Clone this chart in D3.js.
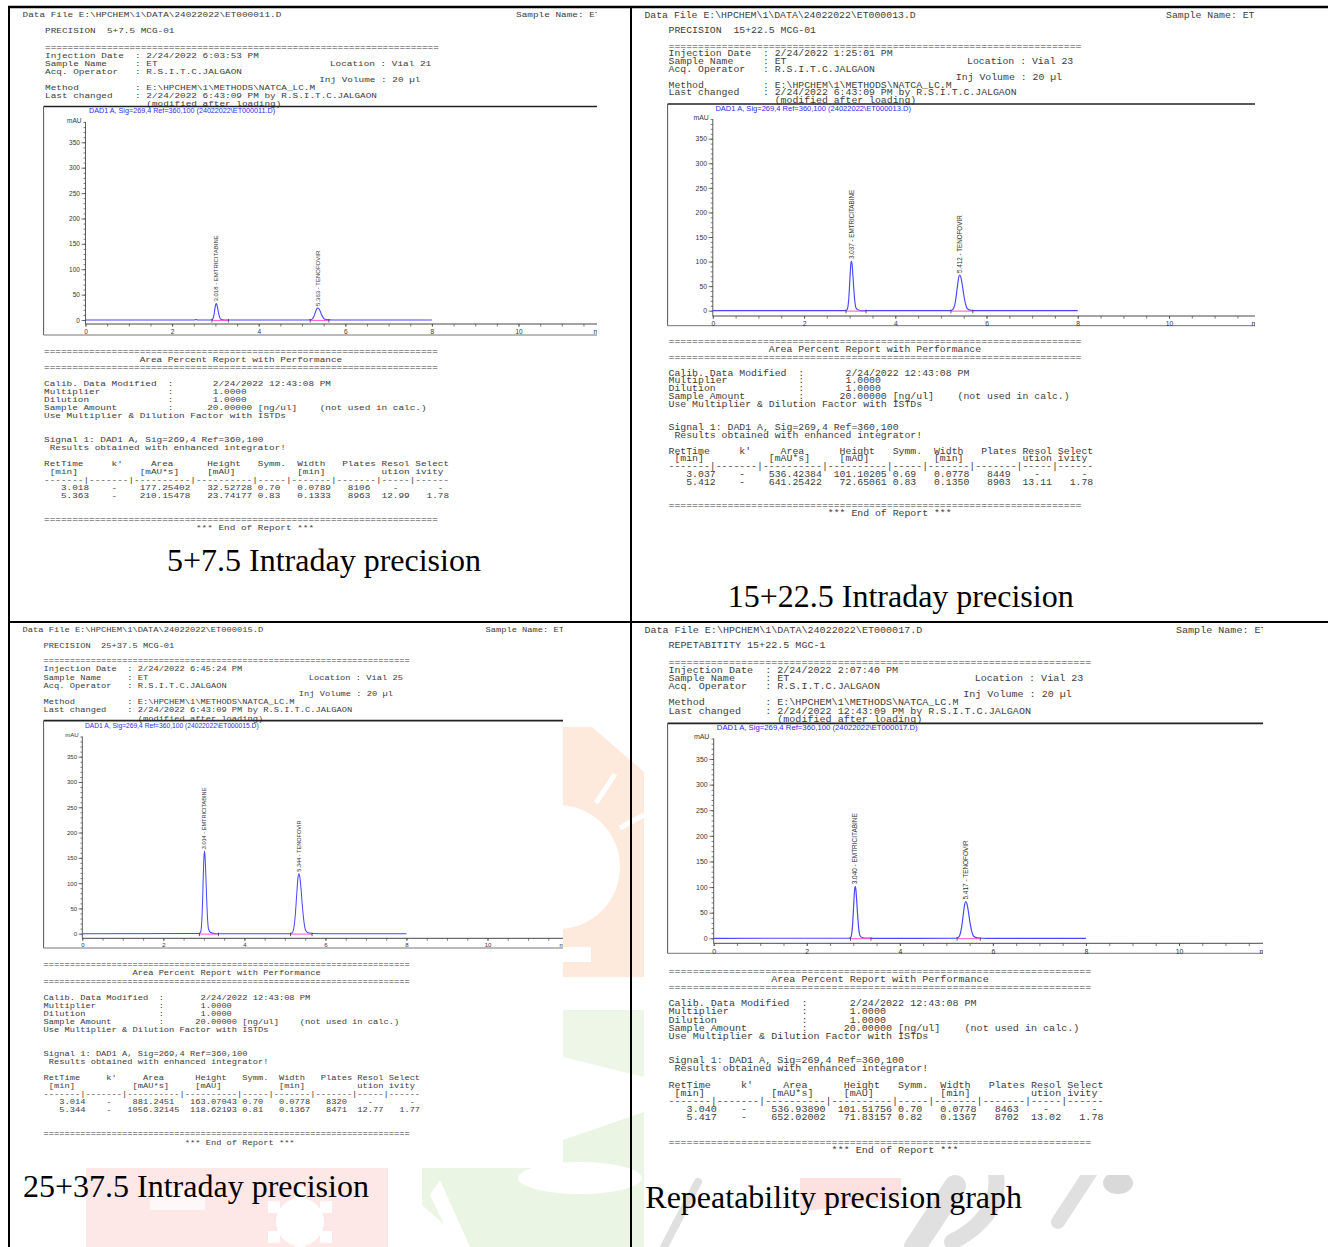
<!DOCTYPE html>
<html><head><meta charset="utf-8">
<script src="https://cdn.jsdelivr.net/npm/d3@7/dist/d3.min.js"></script>
<style>
html,body{margin:0;padding:0;background:#fff;}
svg{display:block;}
.mono{font-family:"Liberation Mono","DejaVu Sans Mono",monospace;fill:#3c3c3c;white-space:pre;}
.sans{font-family:"Liberation Sans",Arial,sans-serif;}
.cap{font-family:"Liberation Serif","Times New Roman",serif;fill:#000;}
</style></head>
<body>
<svg id="chart" width="1328" height="1247" xmlns="http://www.w3.org/2000/svg"></svg>
<script>
// ---------------- DATA ----------------
const dataFiles = ["E:\\HPCHEM\\1\\DATA\\24022022\\ET000011.D","E:\\HPCHEM\\1\\DATA\\24022022\\ET000013.D","E:\\HPCHEM\\1\\DATA\\24022022\\ET000015.D","E:\\HPCHEM\\1\\DATA\\24022022\\ET000017.D"];
const sampleNames = ["ET","ET","ET","ET"];
const runTitles = ["PRECISION  5+7.5 MCG-01","PRECISION  15+22.5 MCG-01","PRECISION  25+37.5 MCG-01","REPETABITITY 15+22.5 MGC-1"];
const injectionDates = ["2/24/2022 6:03:53 PM","2/24/2022 1:25:01 PM","2/24/2022 6:45:24 PM","2/24/2022 2:07:40 PM"];
const vialLocations = ["Vial 21","Vial 23","Vial 25","Vial 23"];
const lastChanged = ["2/24/2022 6:43:09 PM","2/24/2022 6:43:09 PM","2/24/2022 6:43:09 PM","2/24/2022 12:43:09 PM"];
const signalTitles = ["DAD1 A, Sig=269,4 Ref=360,100 (24022022\\ET000011.D)","DAD1 A, Sig=269,4 Ref=360,100 (24022022\\ET000013.D)","DAD1 A, Sig=269,4 Ref=360,100 (24022022\\ET000015.D)","DAD1 A, Sig=269,4 Ref=360,100 (24022022\\ET000017.D)"];
const captions = ["5+7.5 Intraday precision","15+22.5 Intraday precision","25+37.5 Intraday precision","Repeatability precision graph"];
const compounds = ["EMTRICITABINE","TENOFOVIR"];
const retTimes = [["3.018","5.363"],["3.037","5.412"],["3.014","5.344"],["3.040","5.417"]];
const peakAreas = [["177.25402","210.15478"],["536.42384","641.25422"],["881.2451","1056.32145"],["536.93890","652.02002"]];
const peakHeights = [["32.52728","23.74177"],["101.10205","72.65061"],["163.07043","118.62193"],["101.51756","71.83157"]];
const peakSymm = [["0.70","0.83"],["0.69","0.83"],["0.70","0.81"],["0.70","0.82"]];
const peakWidths = [["0.0789","0.1333"],["0.0778","0.1350"],["0.0778","0.1367"],["0.0778","0.1367"]];
const peakPlates = [["8106","8963"],["8449","8903"],["8320","8471"],["8463","8702"]];
const resolution = ["12.99","13.11","12.77","13.02"];
const selectivity = ["1.78","1.78","1.77","1.78"];
const yTickLabels = [0,50,100,150,200,250,300,350];
const xTickLabels = [0,2,4,6,8,10];

const trace1 = [[0,0],[2.50,0],[2.55,0.8],[2.60,0],[2.89,0.1],[2.918,0.4],[2.943,2.6],[2.968,10.7],[2.988,21.8],[3.003,29.3],[3.018,32.5],[3.033,30.6],[3.048,25.0],[3.068,15.9],[3.093,6.5],[3.118,2.0],[3.168,0.5],[3.268,0.1],[3.40,0],[5.15,0.05],[5.193,0.3],[5.233,1.8],[5.273,6.9],[5.313,16.1],[5.338,21.6],[5.363,23.7],[5.388,22.3],[5.413,18.5],[5.453,10.4],[5.493,4.3],[5.533,1.3],[5.613,0.2],[5.713,0.05],[5.85,0],[8,0]];
const trace2 = [[0,0],[2.90,0.1],[2.937,1.2],[2.962,8.1],[2.987,33.4],[3.007,67.7],[3.022,91.0],[3.037,101.1],[3.052,95.0],[3.067,77.8],[3.087,49.5],[3.112,20.2],[3.137,6.1],[3.187,1.5],[3.287,0.3],[3.45,0],[5.20,0.05],[5.242,0.9],[5.282,5.4],[5.322,21.1],[5.362,49.4],[5.387,66.2],[5.412,72.7],[5.437,68.3],[5.462,56.7],[5.502,32.0],[5.542,13.1],[5.582,4.0],[5.662,0.7],[5.762,0.15],[5.90,0],[8,0]];
const trace3 = [[0,0],[2.88,0.2],[2.914,2.0],[2.939,13.0],[2.964,53.8],[2.984,109.3],[2.999,146.8],[3.014,163.1],[3.029,153.3],[3.044,125.6],[3.064,79.9],[3.089,32.6],[3.114,9.8],[3.164,2.4],[3.264,0.5],[3.40,0],[5.13,0.1],[5.174,1.4],[5.214,8.8],[5.254,34.4],[5.294,80.6],[5.319,107.9],[5.344,118.6],[5.369,111.5],[5.394,92.5],[5.434,52.2],[5.474,21.3],[5.514,6.5],[5.594,1.2],[5.694,0.24],[5.85,0],[8,0]];
const trace4 = [[0,0],[2.90,0.1],[2.940,1.2],[2.965,8.1],[2.990,33.5],[3.010,68.0],[3.025,91.4],[3.040,101.5],[3.055,95.4],[3.070,78.2],[3.090,49.7],[3.115,20.3],[3.140,6.1],[3.190,1.5],[3.290,0.3],[3.45,0],[5.21,0.05],[5.247,0.9],[5.287,5.3],[5.327,20.8],[5.367,48.8],[5.392,65.3],[5.417,71.8],[5.442,67.5],[5.467,56.0],[5.507,31.6],[5.547,12.9],[5.587,3.9],[5.667,0.7],[5.767,0.14],[5.90,0],[8,0]];
const traces = [trace1,trace2,trace3,trace4];
const integrationBaselines = [[[2.92,3.30],[5.19,5.62]],[[2.92,3.36],[5.22,5.70]],[[2.89,3.36],[5.14,5.67]],[[2.94,3.38],[5.23,5.73]]];

// ---------------- LAYOUT (positions only) ----------------
const layout = [
 {clip:[10,9,587,536], cw:5.63, hx0:45, rx0:44, dataX:22.5, dataY:14, sampleX:516, precY:30, injY:55, hls:8.0, repY:351.7, rls:8.0, capX:167, capY:560,
  box:[43.6,106.5,597,335], xr:[85.5,518.5], yr:[320,142.3], axisY:324, titleX:89, titleY:110.5, mauY:121, k:1},
 {clip:[632,9,623,521], cw:5.9, hx0:668.5, rx0:668.5, dataX:644.4, dataY:15, sampleX:1166, precY:30.3, injY:53.7, hls:7.8, repY:341.7, rls:7.8, capX:727.7, capY:596.7,
  box:[667.6,104,1255,325.7], xr:[712.8,1169], yr:[310.7,138.7], axisY:316, titleX:715.4, titleY:108, mauY:117.7, k:1.048},
 {clip:[10,623,553,540], cw:5.24, hx0:43.6, rx0:43.6, dataX:22.6, dataY:629.3, sampleX:485.5, precY:645.3, injY:669, hls:8.2, repY:965, rls:8.05, capX:23, capY:1186.7,
  box:[43.6,720.7,563,948], xr:[82.3,487.5], yr:[933.7,756.7], axisY:938.3, titleX:85, titleY:725.3, mauY:735, k:0.93},
 {clip:[644,623,619,552], cw:6.05, hx0:668.5, rx0:668.5, dataX:644.4, dataY:630, sampleX:1176, precY:645.7, injY:670.3, hls:8.1, repY:971, rls:8.14, capX:645.3, capY:1197.3,
  box:[667.6,723.3,1263,953.3], xr:[713.7,1179], yr:[938.3,759], axisY:943.3, titleX:716.8, titleY:727.3, mauY:736.7, k:1.075}
];

// ---------------- DRAW ----------------
const svg = d3.select("#chart");
const defs = svg.append("defs");
svg.append("rect").attr("width",1328).attr("height",1247).attr("fill","#fff");

// faint watermark (behind report images)
const wm = svg.append("g");
const poly = (pts, fill) => wm.append("polygon").attr("points", pts.map(p=>p.join(",")).join(" ")).attr("fill", fill);
poly([[563,727],[592,727],[644,772],[644,977],[563,977]], "#feeadd");
wm.append("circle").attr("cx",558).attr("cy",867).attr("r",62).attr("fill","#fff");
wm.append("line").attr("x1",615).attr("y1",774).attr("x2",596).attr("y2",803).attr("stroke","#fff").attr("stroke-width",5);
wm.append("line").attr("x1",620).attr("y1",828).attr("x2",644).attr("y2",815).attr("stroke","#fff").attr("stroke-width",5);
wm.append("rect").attr("x",563).attr("y",947).attr("width",28).attr("height",15).attr("fill","#fff");
poly([[563,1010],[644,1010],[644,1077],[563,1057]], "#eef7e7");
poly([[563,1140],[644,1112],[644,1247],[470,1247],[422,1205],[422,1168],[563,1168]], "#ebf5e3");
wm.append("ellipse").attr("cx",580).attr("cy",1178).attr("rx",62).attr("ry",16).attr("fill","#fff");
poly([[440,1180],[470,1247],[455,1247],[430,1195]], "#fff");
poly([[86,1168],[388,1168],[388,1247],[86,1247]], "#fde7e7");
wm.append("circle").attr("cx",300).attr("cy",1222).attr("r",24).attr("fill","#fff");
[[0,-30],[26,-15],[26,15],[-26,-15],[-26,15],[0,30]].forEach(([dx,dy])=>wm.append("rect").attr("x",300+dx-6).attr("y",1222+dy-6).attr("width",12).attr("height",12).attr("fill","#fff"));
wm.append("rect").attr("x",150).attr("y",1188).attr("width",55).attr("height",22).attr("fill","#fff").attr("opacity",0.7);
poly([[800,1178],[901,1178],[901,1198],[800,1212]], "#fde0e0");
const gs = (d,w)=>wm.append("path").attr("d",d).attr("fill","none").attr("stroke","#e0e0e0").attr("stroke-width",w).attr("stroke-linecap","round");
gs("M698,1182 L664,1247",8);
gs("M955,1186 L915,1247",22);
gs("M995,1168 Q1005,1215 952,1242",16);
gs("M1092,1170 L1058,1222",14);
wm.append("ellipse").attr("cx",1118).attr("cy",1183).attr("rx",15).attr("ry",11).attr("fill","#d9d9d9");

function pad(parts){let s="";for(const [c,t] of parts){while(s.length<c)s+=" ";s+=t;}return s;}

function drawPanel(L,i){
  const fs=L.cw/0.6, k=L.k;
  const fsV=fs*0.84, sx=fs/fsV;   // Courier-like: narrow vertical extent, full advance width
  const [cx,cy,cwid,chei]=L.clip;
  defs.append("clipPath").attr("id","clip"+i).append("rect").attr("x",cx).attr("y",cy).attr("width",cwid).attr("height",chei);
  const g=svg.append("g").attr("clip-path",`url(#clip${i})`);
  g.append("rect").attr("x",cx).attr("y",cy).attr("width",cwid).attr("height",chei).attr("fill","#fff");
  const mono=(x,y,s)=>g.append("text").attr("class","mono")
      .attr("transform",`translate(${x},${y+fsV*0.33}) scale(${sx},1)`)
      .style("font-size",fsV+"px").text(s);
  const hy=n=>L.injY+n*L.hls, ry=n=>L.repY+n*L.rls;

  // header
  mono(L.dataX,L.dataY,"Data File "+dataFiles[i]);
  mono(L.sampleX,L.dataY,"Sample Name: "+sampleNames[i]);
  mono(L.hx0,L.precY,runTitles[i]);
  mono(L.hx0,hy(-1),"=".repeat(70));
  mono(L.hx0,hy(0),pad([[0,"Injection Date"],[16,": "+injectionDates[i]]]));
  mono(L.hx0,hy(1),pad([[0,"Sample Name"],[16,": "+sampleNames[i]]]));
  mono(L.hx0+50.6*L.cw,hy(1),"Location : "+vialLocations[i]);
  mono(L.hx0,hy(2),pad([[0,"Acq. Operator"],[16,": R.S.I.T.C.JALGAON"]]));
  mono(L.hx0+48.7*L.cw,hy(3),"Inj Volume : 20 \u00b5l");
  mono(L.hx0,hy(4),pad([[0,"Method"],[16,": E:\\HPCHEM\\1\\METHODS\\NATCA_LC.M"]]));
  mono(L.hx0,hy(5),pad([[0,"Last changed"],[16,": "+lastChanged[i]+" by R.S.I.T.C.JALGAON"]]));
  mono(L.hx0,hy(6),pad([[18,"(modified after loading)"]]));

  // report
  const x0=L.rx0;
  mono(x0,ry(0),"=".repeat(70));
  mono(x0,ry(1),pad([[17,"Area Percent Report with Performance"]]));
  mono(x0,ry(2),"=".repeat(70));
  mono(x0,ry(4),pad([[0,"Calib. Data Modified"],[22,":"],[30,"2/24/2022 12:43:08 PM"]]));
  mono(x0,ry(5),pad([[0,"Multiplier"],[22,":"],[30,"1.0000"]]));
  mono(x0,ry(6),pad([[0,"Dilution"],[22,":"],[30,"1.0000"]]));
  mono(x0,ry(7),pad([[0,"Sample Amount"],[22,":"],[29,"20.00000"],[38,"[ng/ul]"],[49,"(not used in calc.)"]]));
  mono(x0,ry(8),"Use Multiplier & Dilution Factor with ISTDs");
  mono(x0,ry(11),"Signal 1: DAD1 A, Sig=269,4 Ref=360,100");
  mono(x0,ry(12)," Results obtained with enhanced integrator!");
  mono(x0,ry(14),pad([[0,"RetTime"],[12,"k'"],[19,"Area"],[29,"Height"],[38,"Symm."],[45,"Width"],[53,"Plates"],[60,"Resol"],[66,"Select"]]));
  mono(x0,ry(15),pad([[1,"[min]"],[17,"[mAU*s]"],[29,"[mAU]"],[45,"[min]"],[60,"ution"],[66,"ivity"]]));
  mono(x0,ry(16),"-------|-------|----------|----------|-----|-------|-------|-----|------");
  for(let j=0;j<2;j++){
    const a=peakAreas[i][j], h=peakHeights[i][j], p=peakPlates[i][j];
    const res = j===0?"-":resolution[i], sel = j===0?"-":selectivity[i];
    const aStart = a.length===8 ? 17 : 26-a.length;
    mono(x0,ry(17+j),pad([[3,retTimes[i][j]],[12,"-"],[aStart,a],[37-h.length,h],[38,peakSymm[i][j]],[45,peakWidths[i][j]],[58-p.length,p],[res==="-"?62:60,res],[sel==="-"?70:68,sel]]));
  }
  mono(x0,ry(21),"=".repeat(70));
  mono(x0,ry(22),pad([[27,"*** End of Report ***"]]));

  // chart
  const x=d3.scaleLinear().domain([0,10]).range(L.xr);
  const y=d3.scaleLinear().domain([0,350]).range(L.yr);
  const [bx,by,br,bb]=L.box;
  g.append("line").attr("x1",bx).attr("x2",br+5).attr("y1",by).attr("y2",by).attr("stroke","#222").attr("stroke-width",1.7);
  g.append("line").attr("x1",bx).attr("x2",bx).attr("y1",by).attr("y2",bb).attr("stroke","#555").attr("stroke-width",1);
  g.append("line").attr("x1",bx).attr("x2",br+5).attr("y1",bb).attr("y2",bb).attr("stroke","#777").attr("stroke-width",1);
  g.append("text").attr("class","sans").attr("x",L.titleX).attr("y",L.titleY+2.6*k).style("font-size",(7.2*k)+"px").attr("fill","#2a2aff").text(signalTitles[i]);
  g.append("text").attr("class","sans").attr("x",x(0)-4*k).attr("y",L.mauY+2.3*k).attr("text-anchor","end").style("font-size",(6.5*k)+"px").attr("fill","#333").text("mAU");

  const yMax=390;
  g.append("line").attr("x1",x(0)).attr("x2",x(0)).attr("y1",L.axisY).attr("y2",y(yMax)).attr("stroke","#333").attr("stroke-width",0.8);
  const yMinor=g.append("g").attr("transform",`translate(${x(0)},0)`)
    .call(d3.axisLeft(y).tickValues(d3.range(0,yMax+1,10)).tickSize(2*k).tickFormat(""));
  const yMajor=g.append("g").attr("class","sans").attr("transform",`translate(${x(0)},0)`)
    .call(d3.axisLeft(y).tickValues(yTickLabels).tickSize(4*k).tickPadding(1.6*k));
  [yMinor,yMajor].forEach(a=>{a.select(".domain").remove();a.selectAll("line").attr("stroke","#444").attr("stroke-width",0.7);});
  yMajor.selectAll("text").style("font-size",(6.5*k)+"px").style("font-family","Liberation Sans, Arial, sans-serif").attr("fill","#333");

  const xMaxVis=(br+5-L.xr[0])/(L.xr[1]-L.xr[0])*10;
  g.append("line").attr("x1",x(0)).attr("x2",br+5).attr("y1",L.axisY).attr("y2",L.axisY).attr("stroke","#333").attr("stroke-width",0.9);
  const xMinor=g.append("g").attr("transform",`translate(0,${L.axisY})`)
    .call(d3.axisBottom(x).tickValues(d3.range(0,xMaxVis,0.5)).tickSize(2.5*k).tickFormat(""));
  const xMajor=g.append("g").attr("transform",`translate(0,${L.axisY})`)
    .call(d3.axisBottom(x).tickValues(xTickLabels).tickSize(2.5*k).tickPadding(2.4*k));
  [xMinor,xMajor].forEach(a=>{a.select(".domain").remove();a.selectAll("line").attr("stroke","#444").attr("stroke-width",0.7);});
  xMajor.selectAll("text").style("font-size",(6.5*k)+"px").style("font-family","Liberation Sans, Arial, sans-serif").attr("fill","#333");
  g.append("text").attr("class","sans").attr("x",br-3.5).attr("y",L.axisY+9.6*k).style("font-size",(6.5*k)+"px").attr("fill","#333").text("min");

  // signal trace
  const line=d3.line().x(d=>x(d[0])).y(d=>y(d[1])).curve(d3.curveMonotoneX);
  g.append("path").datum(traces[i]).attr("d",line).attr("fill","none").attr("stroke","#4848ff").attr("stroke-width",1.1*k);
  integrationBaselines[i].forEach(([a,b])=>{
    g.append("line").attr("x1",x(a)).attr("x2",x(b)).attr("y1",y(0)+0.4).attr("y2",y(0)+0.4).attr("stroke","#ff4fd6").attr("stroke-width",1);
    [a,b].forEach(t=>g.append("line").attr("x1",x(t)).attr("x2",x(t)).attr("y1",y(0)-1).attr("y2",y(0)+2.5).attr("stroke","#333").attr("stroke-width",0.8));
  });
  // peak labels
  const lfs=6*k;
  for(let j=0;j<2;j++){
    const rt=+retTimes[i][j], h=+peakHeights[i][j];
    const px=x(rt)+0.36*lfs, py=y(h)-2;
    g.append("text").attr("class","sans").attr("transform",`translate(${px},${py}) rotate(-90)`)
      .style("font-size",lfs+"px").attr("fill","#333").text(retTimes[i][j]+" - "+compounds[j]);
  }
}
layout.forEach((L,i)=>drawPanel(L,i));

// captions
layout.forEach((L,i)=>{
  svg.append("text").attr("class","cap").attr("x",L.capX).attr("y",L.capY+10.5).style("font-size","32px").text(captions[i]);
});

// table borders
const border=(x1,y1,x2,y2,w)=>svg.append("line").attr("x1",x1).attr("y1",y1).attr("x2",x2).attr("y2",y2).attr("stroke","#000").attr("stroke-width",w);
border(8,7,1328,7,2.5);
border(9,6,9,1247,2);
border(631,6,631,1247,2);
border(9,622,1328,622,2);
</script>
</body></html>
